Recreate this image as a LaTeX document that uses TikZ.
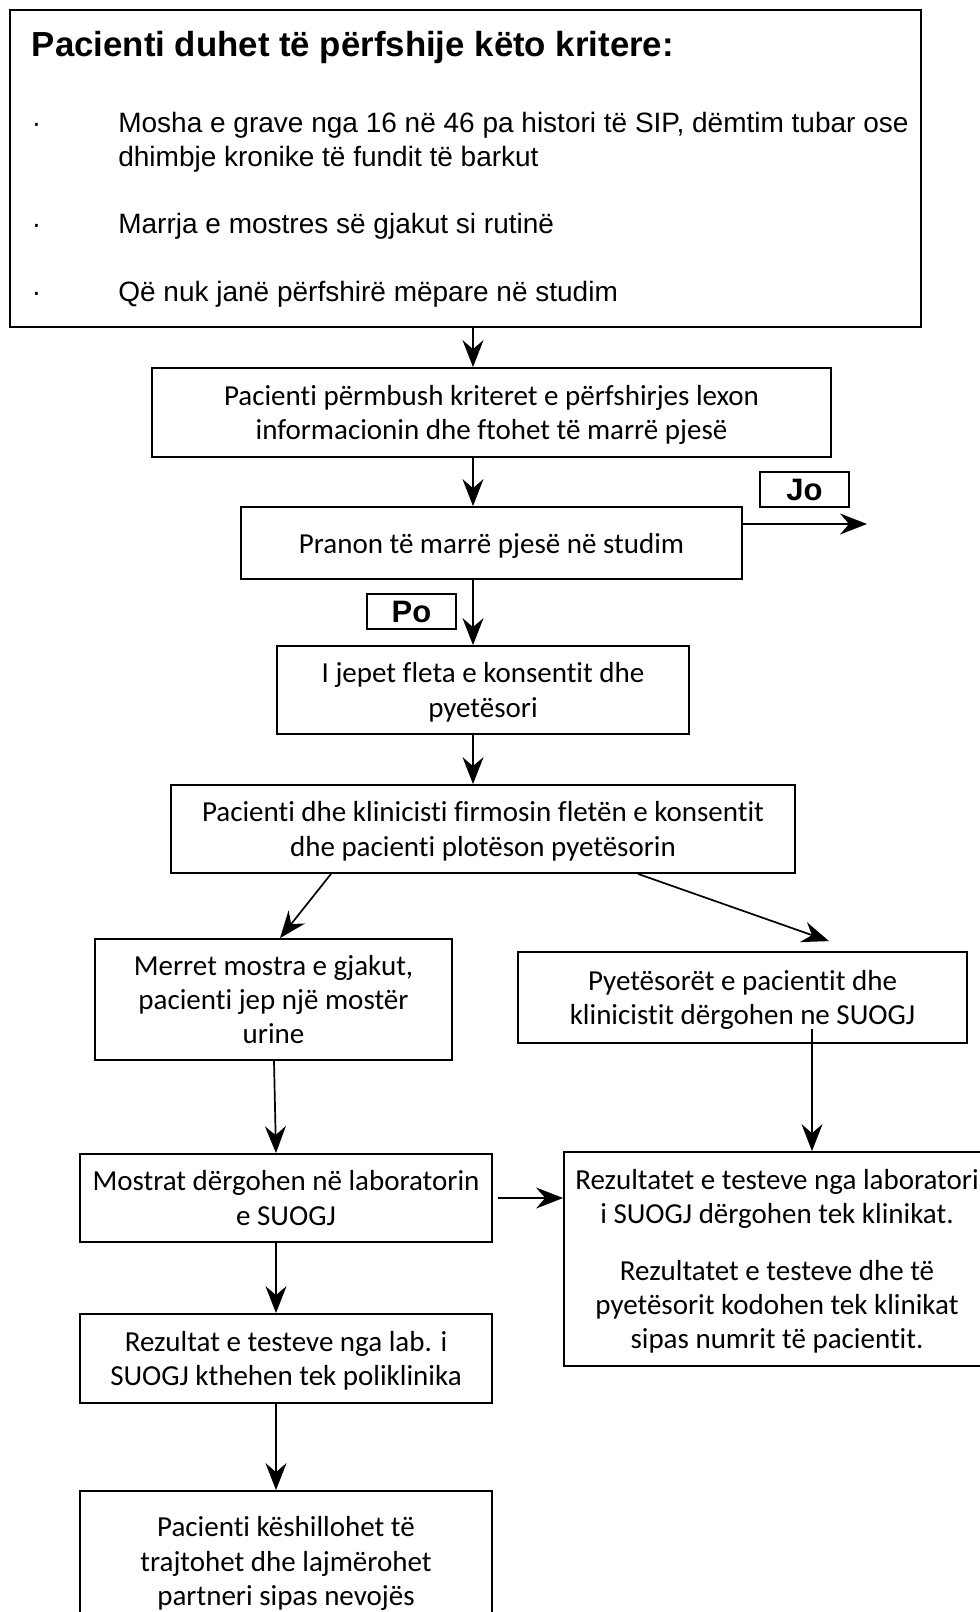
\documentclass[tikz,border=0pt]{standalone}
\usepackage{fontspec}
\setmainfont{Carlito}[Ligatures=NoCommon]
\newfontfamily\arialfont{Liberation Sans}
\usetikzlibrary{arrows.meta, calc, positioning}

\begin{document}
\begin{tikzpicture}[x=0.5pt, y=-0.5pt,
    >={Stealth[length=13.5pt, width=10.5pt, inset=4.5pt]}, line width=0.85pt,
    box/.style={draw, line width=0.9pt, align=center, inner sep=0pt,
        text depth=0pt, font=\fontsize{14.5}{17.2}\selectfont},
    jopo/.style={draw, line width=0.9pt, inner sep=0pt, minimum width=44.5pt,
        minimum height=17.5pt, font=\arialfont\bfseries\fontsize{15.5}{17}\selectfont},
    crit/.style={anchor=base west, inner sep=0pt,
        font=\arialfont\fontsize{14}{17}\selectfont}]
    \useasboundingbox (0,0) rectangle (980,1612);
    \clip (0,0) rectangle (980,1612);

    % Kriteret e perfshirjes
    \node[draw, line width=0.9pt, inner sep=0pt, minimum width=455.5pt,
        minimum height=158.5pt] (kriteret) at (465.5,168.5) {};
    \node[crit, font=\arialfont\bfseries\fontsize{17.4}{20}\selectfont] (titulli)
        at (31,56.7) {Pacienti duhet të përfshije këto kritere:};
    \node[crit] (pika1) at (31,132.7) {·};
    \node[crit] (k1) at (117.5,132.7) {Mosha e grave nga 16 në 46 pa histori të SIP, dëmtim tubar ose};
    \node[crit] (k1b) at (117.5,166.7) {dhimbje kronike të fundit të barkut};
    \node[crit] (pika2) at (31,233) {·};
    \node[crit] (k2) at (117.5,233) {Marrja e mostres së gjakut si rutinë};
    \node[crit] (pika3) at (31,301.7) {·};
    \node[crit] (k3) at (117.5,301.7) {Që nuk janë përfshirë mëpare në studim};

    % Hapat kryesore
    \node[box, minimum width=339.5pt, minimum height=44.5pt] (n2) at (491.5,412.5)
        {Pacienti përmbush kriteret e përfshirjes lexon\\informacionin dhe ftohet të marrë pjesë};
    \node[box, minimum width=250.5pt, minimum height=36pt] (n3) at (491.5,543)
        {Pranon të marrë pjesë në studim};
    \node[jopo] (jo) at (804.5,489.5) {Jo};
    \node[jopo] (po) at (411.5,611.5) {Po};
    \node[box, minimum width=206pt, minimum height=44pt] (n4) at (483,690)
        {I jepet fleta e konsentit dhe\\pyetësori};
    \node[box, minimum width=312pt, minimum height=44pt] (n5) at (483,829)
        {Pacienti dhe klinicisti firmosin fletën e konsentit\\dhe pacienti plotëson pyetësorin};

    % Dy degët
    \node[box, minimum width=178.5pt, minimum height=60.5pt] (n6) at (273.5,999.5)
        {Merret mostra e gjakut,\\pacienti jep një mostër\\urine};
    \node[box, minimum width=224.5pt, minimum height=45.5pt] (n7) at (742.5,997.5)
        {Pyetësorët e pacientit dhe\\klinicistit dërgohen ne SUOGJ};
    \node[box, minimum width=206pt, minimum height=44pt] (n8) at (286,1198)
        {Mostrat dërgohen në laboratorin\\e SUOGJ};
    \node[box, minimum width=213pt, minimum height=107pt] (n9) at (777,1259)
        {Rezultatet e testeve nga laboratori\\i SUOGJ dërgohen tek klinikat.\\[11pt]
        Rezultatet e testeve dhe të\\pyetësorit kodohen tek klinikat\\sipas numrit të pacientit.};
    \node[box, minimum width=206pt, minimum height=44.5pt] (n10) at (286,1358.5)
        {Rezultat e testeve nga lab. i\\SUOGJ kthehen tek poliklinika};
    \node[box, minimum width=206pt, minimum height=70pt] (n11) at (286,1561)
        {Pacienti këshillohet të\\trajtohet dhe lajmërohet\\partneri sipas nevojës};

    % Shigjetat
    \coordinate (boshti) at (473,0);
    \coordinate (majtas) at (276,0);
    \coordinate (jashte) at (867,524);
    \draw[->] (kriteret.south -| boshti) -- (n2.north -| boshti);
    \draw[->] (n2.south -| boshti) -- (n3.north -| boshti);
    \draw[->] (n3.south -| boshti) -- (n4.north -| boshti);
    \draw[->] (n4.south -| boshti) -- (n5.north -| boshti);
    \draw[->] (n3.east |- jashte) -- (jashte);
    \draw[->] ([xshift=-76pt]n5.south) -- ([xshift=3.25pt]n6.north);
    \draw[->] ([xshift=77.5pt]n5.south) -- ([xshift=43.25pt, yshift=5pt]n7.north);
    \draw[->] ([xshift=0.25pt]n6.south) -- (n8.north -| majtas);
    \draw[->] ([xshift=34.75pt, yshift=7.5pt]n7.south) coordinate (n7d) -- (n9.north -| n7d);
    \draw[->] ([xshift=2.5pt]n8.east) -- (n8.east -| n9.west);
    \draw[->] (n8.south -| majtas) -- (n10.north -| majtas);
    \draw[->] (n10.south -| majtas) -- (n11.north -| majtas);
\end{tikzpicture}
\end{document}
